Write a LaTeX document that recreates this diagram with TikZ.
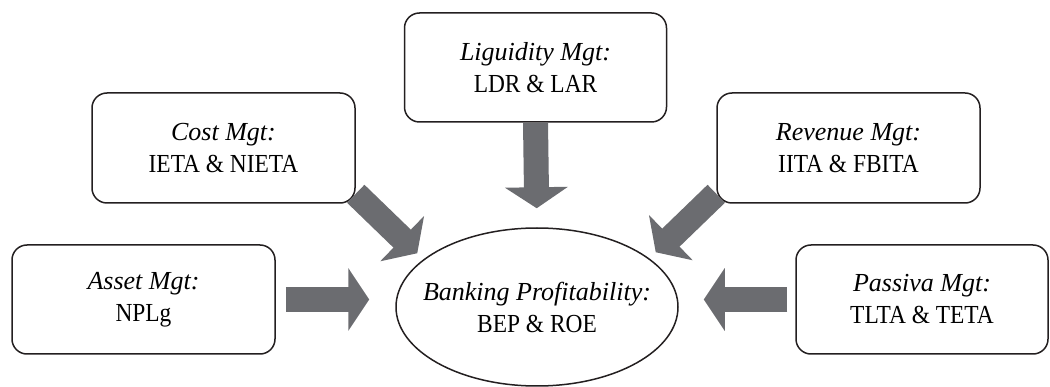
\documentclass[tikz,border=0pt]{standalone}
\usepackage{fontspec}
\setmainfont{Liberation Serif}
\newfontfamily\narrowfont[FakeStretch=0.9]{Liberation Serif}
\usetikzlibrary{arrows.meta,shapes.geometric}
\definecolor{arrowgray}{RGB}{107,108,112}
\definecolor{boxline}{RGB}{35,31,32}
\newcommand{\mgtlabel}[2]{\textit{#1}\\ {\narrowfont #2}}
\tikzset{
  mgttext/.style={align=center, font=\fontsize{26}{32}\selectfont},
  mgtbox/.style={mgttext, draw=boxline, line width=1.5pt, rounded corners=15pt,
    minimum width=263pt, minimum height=110pt},
  fatarrow/.style={draw=arrowgray, line width=25pt,
    -{Triangle[length=21pt,width=62pt]}}
}
\begin{document}
\begin{tikzpicture}[x=1pt,y=-1pt]
  \useasboundingbox (0,0) rectangle (1050,387);
  % Ziel
  \node[ellipse, draw=boxline, line width=1.5pt, inner sep=0pt,
    minimum width=282pt, minimum height=158pt] (bep) at (537,307) {};
  \node[mgttext] (beptext) at (bep.center)
    {\mgtlabel{Banking Profitability:}{BEP \& ROE}};
  % Kasten
  \node[mgtbox, minimum width=262pt, minimum height=109pt] (liq) at (535.5,67.5)
    {\mgtlabel{Liguidity Mgt:}{LDR \& LAR}};
  \node[mgtbox] (cost) at (223.5,148) {\mgtlabel{Cost Mgt:}{IETA \& NIETA}};
  \node[mgtbox] (rev) at (848.5,148) {\mgtlabel{Revenue Mgt:}{IITA \& FBITA}};
  \node[mgtbox, minimum height=109pt] (asset) at (143.5,299.5)
    {\mgtlabel{Asset Mgt:}{NPLg}};
  \node[mgtbox, minimum width=252pt, minimum height=109pt] (pas) at (922,299.5)
    {\mgtlabel{Passiva Mgt:}{TLTA \& TETA}};
  % Spitzen
  \path (bep.north -| bep.west) ++(22,26) coordinate (costtip);
  \path (bep.north -| bep.east) ++(-23,25) coordinate (revtip);
  % Pfeile
  \draw[fatarrow, shorten >=19pt] (liq.south) -- (bep.north);
  \draw[fatarrow, shorten <=10pt, shorten >=26pt] (asset.east) -- (asset.east -| bep.west);
  \draw[fatarrow, shorten <=8pt, shorten >=25pt] (pas.west) -- (pas.west -| bep.east);
  \draw[fatarrow] ([yshift=10pt]cost.south east) -- (costtip);
  \draw[fatarrow] ([yshift=10pt]rev.south west) -- (revtip);
\end{tikzpicture}
\end{document}
